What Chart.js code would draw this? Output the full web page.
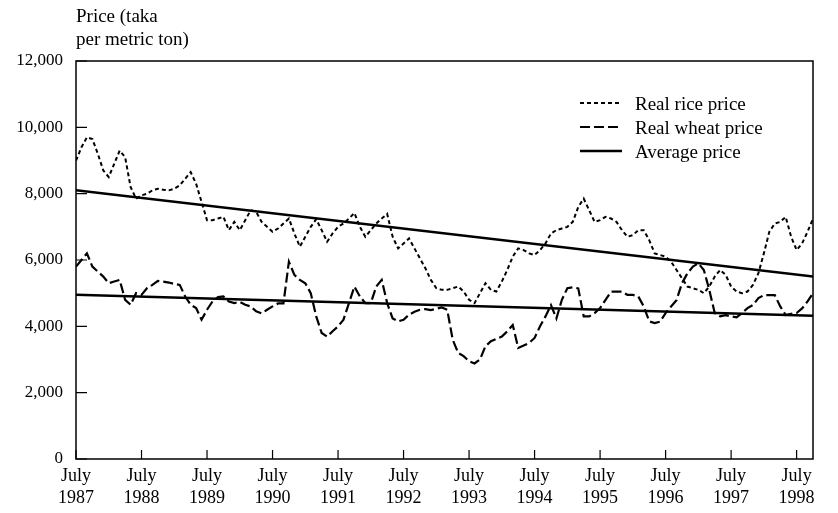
<!DOCTYPE html>
<html lang="en">
<head>
    <meta charset="UTF-8">
    <title>Real rice and wheat prices</title>
    <style>
        body {
            margin: 0;
            padding: 0;
            background: #fff;
        }
        canvas {
            display: block;
        }
    </style>
</head>
<body>
<canvas id="chart" width="838" height="513"></canvas>

<script src="https://cdn.jsdelivr.net/npm/chart.js"></script>
<script>
    // monthly values, July 1987 onwards (taka per metric ton)
    var tickMonth = 'July';
    var tickYears = [1987, 1988, 1989, 1990, 1991, 1992, 1993, 1994, 1995, 1996, 1997, 1998];

    var rice = [
        9000, 9400, 9700, 9650, 9200, 8700, 8500, 8900, 9300, 9100, 8200, 7850,
        7950, 8000, 8100, 8150, 8120, 8100, 8150, 8250, 8450, 8650, 8300, 7750,
        7200, 7200, 7250, 7300, 6900, 7150, 6900, 7200, 7500, 7450, 7150, 7000,
        6850, 6950, 7100, 7250, 6800, 6400, 6700, 7000, 7230, 6900, 6550, 6800,
        7000, 7100, 7250, 7420, 7000, 6700, 6900, 7100, 7250, 7390, 6700, 6350,
        6500, 6650, 6350, 6050, 5750, 5400, 5150, 5100, 5100, 5150, 5200, 5050,
        4800, 4700, 5000, 5300, 5100, 5050, 5350, 5700, 6100, 6350, 6300, 6200,
        6150, 6300, 6500, 6800, 6900, 6950, 7000, 7150, 7600, 7850, 7500, 7150,
        7200, 7300, 7250, 7150, 6900, 6700, 6750, 6900, 6900, 6600, 6200, 6150,
        6100, 5950, 5700, 5450, 5200, 5150, 5100, 5000, 5200, 5500, 5700, 5550,
        5200, 5050, 5000, 5050, 5250, 5600, 6200, 6850, 7100, 7150, 7300, 6700,
        6300, 6500, 6850, 7250
    ];

    var wheat = [
        5800, 6000, 6200, 5800, 5650, 5500, 5300, 5350, 5400, 4800, 4650, 5000,
        4950, 5150, 5250, 5370, 5350, 5320, 5280, 5250, 4900, 4650, 4550, 4200,
        4500, 4750, 4880, 4900, 4750, 4700, 4740, 4650, 4600, 4450, 4390, 4500,
        4600, 4690, 4690, 5950, 5550, 5400, 5300, 5000, 4300, 3800, 3690, 3850,
        4000, 4200, 4700, 5200, 4900, 4700, 4700, 5200, 5400, 4700, 4240, 4150,
        4200, 4350, 4440, 4500, 4520, 4490, 4530, 4570, 4500, 3600, 3200, 3100,
        2950, 2880, 3000, 3400, 3550, 3620, 3690, 3850, 4040, 3350, 3420, 3500,
        3650, 4000, 4300, 4640, 4240, 4800, 5150, 5175, 5145, 4300, 4300, 4400,
        4550, 4800, 5045, 5050, 5045, 4950, 4950, 4900, 4600, 4150, 4100, 4140,
        4400, 4600, 4790, 5300, 5600, 5800, 5900, 5700, 5100, 4400, 4300, 4340,
        4300, 4270, 4400, 4550, 4640, 4850, 4940, 4940, 4940, 4600, 4340, 4380,
        4400, 4540, 4750, 5000
    ];

    // average price lines: value at first and last month
    var riceAverage = [8100, 5500];
    var wheatAverage = [4950, 4320];

    var lastMonth = rice.length - 1;
    var serif = '"Liberation Serif", "Times New Roman", serif';

    function toPoints(values) {
        return values.map(function (v, i) { return { x: i, y: v }; });
    }

    var legendItems = [
        { text: 'Real rice price', dash: [4, 3], width: 2 },
        { text: 'Real wheat price', dash: [10, 4], width: 2.2 },
        { text: 'Average price', dash: [], width: 2.5 }
    ];

    var decorations = {
        id: 'decorations',
        afterDraw: function (chart) {
            var ctx = chart.ctx;
            var area = chart.chartArea;
            var xs = chart.scales.x;
            var ys = chart.scales.y;
            ctx.save();
            ctx.strokeStyle = '#000';
            ctx.lineWidth = 1.5;
            ctx.setLineDash([]);
            ctx.strokeRect(area.left, area.top, area.right - area.left, area.bottom - area.top);

            // inward tick marks
            ctx.lineWidth = 1.2;
            ctx.beginPath();
            ys.ticks.forEach(function (t) {
                var y = ys.getPixelForValue(t.value);
                ctx.moveTo(area.left, y);
                ctx.lineTo(area.left + 11, y);
            });
            xs.ticks.forEach(function (t) {
                var x = xs.getPixelForValue(t.value);
                ctx.moveTo(x, area.bottom);
                ctx.lineTo(x, area.bottom - 9);
            });
            ctx.stroke();

            // axis title
            ctx.fillStyle = '#000';
            ctx.font = '19px ' + serif;
            ctx.textAlign = 'left';
            ctx.textBaseline = 'middle';
            ctx.fillText('Price (taka', 76, 17);
            ctx.fillText('per metric ton)', 76, 40);

            // legend
            legendItems.forEach(function (item, i) {
                var y = 103 + i * 24;
                ctx.beginPath();
                ctx.lineWidth = item.width;
                ctx.setLineDash(item.dash);
                ctx.moveTo(580, y);
                ctx.lineTo(622, y);
                ctx.stroke();
                ctx.setLineDash([]);
                ctx.fillText(item.text, 635, y + 2);
            });
            ctx.restore();
        }
    };

    new Chart(document.getElementById('chart'), {
        type: 'line',
        data: {
            datasets: [{
                label: 'Real rice price',
                data: toPoints(rice),
                borderColor: '#000',
                borderWidth: 2,
                borderDash: [4, 3],
                pointRadius: 0,
                tension: 0
            }, {
                label: 'Real wheat price',
                data: toPoints(wheat),
                borderColor: '#000',
                borderWidth: 2.2,
                borderDash: [10, 4],
                pointRadius: 0,
                tension: 0
            }, {
                label: 'Average price',
                data: [{ x: 0, y: riceAverage[0] }, { x: lastMonth, y: riceAverage[1] }],
                borderColor: '#000',
                borderWidth: 2.5,
                pointRadius: 0
            }, {
                label: 'Average price (wheat)',
                data: [{ x: 0, y: wheatAverage[0] }, { x: lastMonth, y: wheatAverage[1] }],
                borderColor: '#000',
                borderWidth: 2.5,
                pointRadius: 0
            }]
        },
        options: {
            responsive: false,
            animation: false,
            devicePixelRatio: 1,
            layout: {
                padding: { top: 61, right: 25, left: 0, bottom: 0 }
            },
            plugins: {
                legend: { display: false },
                tooltip: { enabled: false }
            },
            scales: {
                x: {
                    type: 'linear',
                    min: 0,
                    max: lastMonth,
                    grid: { display: false, drawTicks: false },
                    border: { display: false },
                    afterBuildTicks: function (scale) {
                        scale.ticks = tickYears.map(function (y, i) { return { value: i * 12 }; });
                    },
                    afterFit: function (scale) { scale.height = 54; },
                    ticks: {
                        autoSkip: false,
                        maxRotation: 0,
                        padding: 6,
                        color: '#000',
                        font: { family: serif, size: 18, lineHeight: 1.25 },
                        callback: function (v) {
                            return [tickMonth, String(tickYears[Math.round(v / 12)])];
                        }
                    }
                },
                y: {
                    min: 0,
                    max: 12000,
                    grid: { display: false, drawTicks: false },
                    border: { display: false },
                    afterFit: function (scale) { scale.width = 76; },
                    ticks: {
                        stepSize: 2000,
                        padding: 13,
                        color: '#000',
                        font: { family: serif, size: 17 },
                        callback: function (v) { return v.toLocaleString('en-US'); }
                    }
                }
            }
        },
        plugins: [decorations]
    });
</script>
</body>
</html>
